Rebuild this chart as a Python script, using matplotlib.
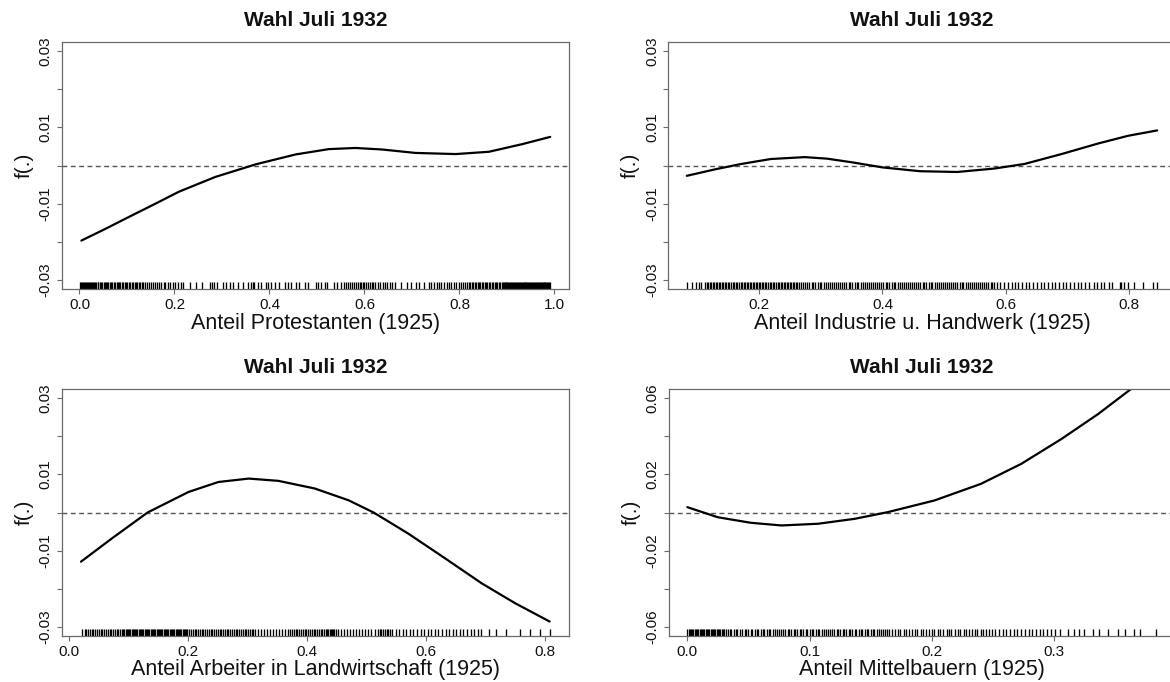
import matplotlib
matplotlib.use('Agg')
import matplotlib.pyplot as plt
from matplotlib.transforms import blended_transform_factory

plt.rcParams['font.family'] = ['Liberation Sans', 'DejaVu Sans']
plt.rcParams['axes.unicode_minus'] = False

W, H = 1170, 682

title = "Wahl Juli 1932"
xlabels = ["Anteil Protestanten (1925)", "Anteil Industrie u. Handwerk (1925)",
           "Anteil Arbeiter in Landwirtschaft (1925)", "Anteil Mittelbauern (1925)"]

# ---- fitted smooth effects ----
p1x = [0.004, 0.055, 0.104, 0.157, 0.209, 0.286, 0.371, 0.455, 0.525, 0.581, 0.637, 0.707, 0.792, 0.862, 0.932, 0.991]
p1y = [-0.0197, -0.0166, -0.0135, -0.0102, -0.0069, -0.0030, 0.0003, 0.0029, 0.0043, 0.0046, 0.0042, 0.0033, 0.0030, 0.0036, 0.0056, 0.0075]

p2x = [0.083, 0.129, 0.171, 0.219, 0.274, 0.310, 0.352, 0.400, 0.461, 0.521, 0.581, 0.630, 0.690, 0.750, 0.798, 0.845]
p2y = [-0.0027, -0.0010, 0.0004, 0.0017, 0.0022, 0.0018, 0.0008, -0.0005, -0.0015, -0.0017, -0.0008, 0.0004, 0.0030, 0.0058, 0.0078, 0.0092]

p3x = [0.020, 0.072, 0.132, 0.201, 0.251, 0.302, 0.352, 0.413, 0.470, 0.512, 0.570, 0.632, 0.694, 0.750, 0.808]
p3y = [-0.0129, -0.0068, 0.0000, 0.0054, 0.0080, 0.0089, 0.0083, 0.0063, 0.0032, 0.0000, -0.0055, -0.0120, -0.0186, -0.0238, -0.0286]

p4x = [0.000, 0.025, 0.052, 0.077, 0.107, 0.137, 0.164, 0.202, 0.240, 0.273, 0.306, 0.336, 0.362, 0.383]
p4y = [0.0028, -0.0025, -0.0054, -0.0068, -0.0059, -0.0033, 0.0002, 0.0063, 0.0150, 0.0255, 0.0386, 0.0517, 0.0644, 0.0750]

# ---- rug positions (observed covariate values, read approximately) ----
rug1 = [0.002, 0.004, 0.006, 0.008, 0.010, 0.012, 0.014, 0.016, 0.018, 0.020, 0.022, 0.024, 0.026, 0.028, 0.030,
        0.033, 0.035, 0.038, 0.040, 0.043, 0.045, 0.048, 0.051, 0.053, 0.056, 0.059, 0.061, 0.064, 0.067, 0.069,
        0.072, 0.075, 0.078, 0.081, 0.083, 0.086, 0.089, 0.092, 0.095, 0.098, 0.101, 0.104, 0.107, 0.110, 0.113,
        0.116, 0.119, 0.122, 0.125, 0.128, 0.131, 0.134,
        0.139, 0.143, 0.147, 0.151, 0.155, 0.159, 0.163, 0.168, 0.172, 0.177, 0.181, 0.186, 0.191, 0.196, 0.201,
        0.207, 0.214, 0.219, 0.233, 0.246, 0.258, 0.274, 0.279, 0.283, 0.289, 0.302, 0.308, 0.316, 0.323, 0.333,
        0.344, 0.354, 0.361, 0.365, 0.368, 0.375, 0.383, 0.393, 0.397, 0.404, 0.411, 0.421, 0.432, 0.439, 0.446,
        0.455, 0.463, 0.474, 0.481, 0.497, 0.502, 0.509, 0.517, 0.521, 0.535, 0.542, 0.550,
        0.557, 0.561, 0.566, 0.570, 0.574, 0.579, 0.583, 0.586, 0.590, 0.593, 0.597, 0.600, 0.604, 0.607, 0.611,
        0.615, 0.619, 0.623, 0.628, 0.633, 0.638, 0.643, 0.648, 0.653, 0.658,
        0.665, 0.676, 0.690, 0.697, 0.708, 0.714, 0.725, 0.736,
        0.741, 0.746, 0.752, 0.757, 0.762, 0.768, 0.773, 0.778, 0.783, 0.788, 0.793, 0.798, 0.803, 0.808, 0.812, 0.816,
        0.820, 0.823, 0.826, 0.829, 0.832, 0.835, 0.838, 0.841, 0.844, 0.847, 0.850, 0.853, 0.856, 0.859, 0.862,
        0.865, 0.868, 0.871, 0.874, 0.877, 0.880, 0.883, 0.886, 0.889, 0.891, 0.893, 0.895, 0.897, 0.899, 0.901,
        0.903, 0.905, 0.907, 0.909, 0.911, 0.913, 0.915, 0.917, 0.919, 0.921, 0.923, 0.925, 0.927, 0.929, 0.931,
        0.933, 0.935, 0.937, 0.939, 0.941, 0.943, 0.945, 0.947, 0.949, 0.951, 0.953, 0.955, 0.957, 0.959, 0.961,
        0.963, 0.965, 0.967, 0.969, 0.971, 0.973, 0.975, 0.977, 0.979, 0.981, 0.983, 0.985, 0.987, 0.989, 0.991]

rug2 = [0.083, 0.092, 0.098, 0.102, 0.106, 0.112,
        0.115, 0.117, 0.120, 0.122, 0.125, 0.127, 0.130, 0.132, 0.135, 0.137, 0.140, 0.142, 0.145, 0.147, 0.150,
        0.152, 0.155, 0.157, 0.160, 0.162, 0.165, 0.167, 0.170, 0.172, 0.175, 0.177, 0.180, 0.182, 0.185, 0.187,
        0.190, 0.192, 0.195, 0.197, 0.200, 0.202, 0.205, 0.207, 0.210, 0.212, 0.215, 0.217, 0.220, 0.222, 0.225,
        0.227, 0.230, 0.232, 0.235, 0.237, 0.240, 0.242, 0.245, 0.247, 0.250, 0.252, 0.255, 0.257, 0.260, 0.262,
        0.265, 0.268,
        0.271, 0.275, 0.278, 0.281, 0.285, 0.288, 0.291, 0.295, 0.298, 0.301, 0.305, 0.308, 0.311, 0.315, 0.318,
        0.321, 0.325, 0.328, 0.331, 0.335, 0.338, 0.341, 0.345, 0.348, 0.351, 0.355, 0.358, 0.361, 0.365, 0.368,
        0.371, 0.375, 0.378, 0.381, 0.385, 0.388, 0.391, 0.395, 0.398, 0.401, 0.405, 0.408, 0.411, 0.415, 0.418,
        0.421, 0.425, 0.428, 0.431, 0.435, 0.438, 0.441, 0.445, 0.448, 0.451, 0.455, 0.458, 0.461, 0.465, 0.468,
        0.471, 0.475, 0.478, 0.481, 0.485, 0.488, 0.491, 0.495, 0.498, 0.501, 0.505, 0.508, 0.511, 0.515, 0.518,
        0.521, 0.525, 0.528, 0.531, 0.535, 0.538, 0.541, 0.545, 0.548, 0.551, 0.555, 0.558, 0.561, 0.565, 0.568,
        0.571, 0.575, 0.578, 0.581, 0.585,
        0.591, 0.597, 0.603, 0.609, 0.614, 0.620, 0.626, 0.632, 0.638, 0.644, 0.650, 0.656, 0.662, 0.668, 0.674,
        0.680, 0.686, 0.692, 0.698, 0.704, 0.710, 0.716, 0.722, 0.728, 0.734,
        0.743, 0.747, 0.754, 0.759, 0.767, 0.772, 0.784, 0.786, 0.792, 0.797, 0.808, 0.822, 0.838, 0.845]

rug3 = [0.021,
        0.026, 0.029, 0.032, 0.035, 0.038, 0.041, 0.044, 0.047, 0.050, 0.053, 0.056, 0.059, 0.062, 0.065, 0.068,
        0.071, 0.074, 0.077, 0.080, 0.083, 0.086, 0.089, 0.091, 0.093, 0.095, 0.097, 0.099, 0.101, 0.103, 0.105,
        0.107, 0.109, 0.111, 0.113, 0.115, 0.117, 0.119, 0.121, 0.123, 0.125, 0.127, 0.129, 0.131, 0.133, 0.135,
        0.137, 0.139, 0.141, 0.143, 0.145, 0.147, 0.149, 0.151, 0.153, 0.155, 0.157, 0.159, 0.161, 0.163, 0.165,
        0.167, 0.169, 0.171, 0.173, 0.175, 0.177, 0.179, 0.181, 0.183, 0.185, 0.187, 0.189, 0.191, 0.193, 0.195,
        0.197, 0.199, 0.202, 0.205, 0.208, 0.211, 0.214, 0.217, 0.220, 0.223, 0.226, 0.229, 0.232, 0.235, 0.238,
        0.241, 0.244, 0.247, 0.250, 0.253, 0.256, 0.259, 0.262, 0.265, 0.268, 0.271, 0.274, 0.277, 0.280, 0.283,
        0.286, 0.289, 0.292, 0.295, 0.298, 0.301, 0.304, 0.307, 0.310, 0.313,
        0.318, 0.323, 0.328, 0.333, 0.338, 0.343, 0.348, 0.353, 0.358, 0.363, 0.368,
        0.372, 0.375, 0.378, 0.381, 0.384, 0.387, 0.390, 0.393, 0.396, 0.399, 0.402, 0.405, 0.408, 0.411, 0.414,
        0.417, 0.420, 0.423, 0.426, 0.429, 0.432, 0.434, 0.436, 0.438, 0.440, 0.442, 0.444, 0.446, 0.448,
        0.453, 0.458, 0.463, 0.468, 0.473, 0.478, 0.483, 0.488, 0.493, 0.498, 0.503, 0.508,
        0.514, 0.519,
        0.522, 0.525, 0.528, 0.531, 0.534, 0.537, 0.540, 0.543,
        0.549, 0.555, 0.561, 0.567, 0.573, 0.579, 0.585, 0.591, 0.597, 0.603, 0.609, 0.615, 0.621, 0.627, 0.633,
        0.639, 0.645, 0.651, 0.657, 0.663, 0.669, 0.675, 0.681, 0.687,
        0.693, 0.706, 0.718, 0.734, 0.759, 0.775, 0.791, 0.809]

rug4 = [0.000, 0.001, 0.002, 0.003, 0.004, 0.005, 0.006, 0.007, 0.008, 0.009, 0.010, 0.011, 0.012, 0.013, 0.014,
        0.015, 0.016, 0.017, 0.018, 0.019, 0.020, 0.021, 0.022, 0.023, 0.024, 0.025, 0.026, 0.027, 0.028, 0.029,
        0.030, 0.032, 0.033, 0.035, 0.036, 0.038, 0.040, 0.041, 0.043, 0.045, 0.047, 0.048, 0.050, 0.052, 0.053,
        0.055, 0.057, 0.058, 0.060, 0.062, 0.063, 0.065, 0.067, 0.068, 0.070, 0.072, 0.073, 0.075, 0.077, 0.078,
        0.080, 0.082, 0.083, 0.085, 0.087, 0.088, 0.090, 0.092, 0.093, 0.095, 0.097, 0.098, 0.100, 0.102, 0.103,
        0.105, 0.107, 0.108, 0.110, 0.112, 0.113, 0.115, 0.117, 0.118, 0.120, 0.122, 0.123, 0.125, 0.127, 0.128,
        0.130, 0.132, 0.133, 0.135, 0.137, 0.138, 0.140, 0.142, 0.143, 0.145, 0.147, 0.148, 0.150, 0.152, 0.153,
        0.155, 0.157, 0.158, 0.160, 0.162, 0.163, 0.165, 0.167,
        0.170, 0.172, 0.174, 0.177, 0.179, 0.181, 0.184, 0.186, 0.188, 0.191, 0.193, 0.195, 0.198, 0.200, 0.202,
        0.205, 0.207, 0.209, 0.212, 0.214, 0.216, 0.219, 0.221, 0.223, 0.226, 0.228, 0.230, 0.233, 0.235, 0.237,
        0.240, 0.242, 0.244, 0.247, 0.249,
        0.252, 0.255, 0.258, 0.261, 0.264, 0.267, 0.270, 0.273, 0.276, 0.279, 0.282, 0.285, 0.288, 0.291, 0.294,
        0.297,
        0.3005, 0.305, 0.311, 0.316, 0.320, 0.324, 0.332, 0.337, 0.344, 0.352, 0.358, 0.365, 0.370, 0.383]

xt1 = [0.0, 0.2, 0.4, 0.6, 0.8, 1.0]
xt2 = [0.2, 0.4, 0.6, 0.8]
xt3 = [0.0, 0.2, 0.4, 0.6, 0.8]
xt4 = [0.0, 0.1, 0.2, 0.3]
yt_small = [-0.03, -0.02, -0.01, 0.0, 0.01, 0.02, 0.03]
yl_small = ["-0.03", "", "-0.01", "", "0.01", "", "0.03"]
yt_big = [-0.06, -0.04, -0.02, 0.0, 0.02, 0.04, 0.06]
yl_big = ["-0.06", "", "-0.02", "", "0.02", "", "0.06"]

panels = [
    dict(box=(61.6, 569.0, 42, 289), x=p1x, y=p1y, rug=rug1, xlim=(-0.0376, 1.0306), ylim=(-0.0324, 0.0324),
         xt=xt1, yt=yt_small, yl=yl_small, xlab=xlabels[0]),
    dict(box=(668.0, 1176.0, 42, 289), x=p2x, y=p2y, rug=rug2, xlim=(0.0525, 0.8755), ylim=(-0.0324, 0.0324),
         xt=xt2, yt=yt_small, yl=yl_small, xlab=xlabels[1]),
    dict(box=(61.6, 569.0, 389, 636), x=p3x, y=p3y, rug=rug3, xlim=(-0.0126, 0.8406), ylim=(-0.0324, 0.0324),
         xt=xt3, yt=yt_small, yl=yl_small, xlab=xlabels[2]),
    dict(box=(668.6, 1174.4, 389, 636), x=p4x, y=p4y, rug=rug4, xlim=(-0.0153, 0.3983), ylim=(-0.0648, 0.0648),
         xt=xt4, yt=yt_big, yl=yl_big, xlab=xlabels[3]),
]

fig = plt.figure(figsize=(W / 100, H / 100), dpi=100)
axc = '#6a6a6a'
txt = '#111111'

for p in panels:
    L, R, T, B = p['box']
    ax = fig.add_axes([L / W, 1 - B / H, (R - L) / W, (B - T) / H])
    ax.set_xlim(*p['xlim'])
    ax.set_ylim(*p['ylim'])
    ax.axhline(0, color='#555555', lw=1.0, ls=(0, (3.5, 2.5)))
    ax.plot(p['x'], p['y'], color='black', lw=1.6, solid_capstyle='round', solid_joinstyle='round')
    tr = blended_transform_factory(ax.transData, ax.transAxes)
    ax.vlines(p['rug'], 0, 0.03, transform=tr, color='black', lw=0.95)
    for s in ax.spines.values():
        s.set_color(axc)
        s.set_linewidth(0.9)
    ax.set_xticks(p['xt'])
    ax.set_xticklabels(["%.1f" % v for v in p['xt']])
    ax.set_yticks(p['yt'])
    ax.set_yticklabels(p['yl'], rotation=90, va='center')
    ax.tick_params(direction='out', length=3.3, width=0.8, color=axc, labelsize=11, pad=3.0, labelcolor=txt)
    bh = B - T
    ax.text(0.5, 1 + 21 / bh, title, transform=ax.transAxes, ha='center', va='center',
            fontsize=15, fontweight='bold', color=txt)
    ax.text(0.5, -34 / bh, p['xlab'], transform=ax.transAxes, ha='center', va='center',
            fontsize=15.5, color=txt)
    fig.text((L - 37.6) / W, 1 - (T + bh / 2) / H, "f(.)", rotation=90, ha='center', va='center',
             fontsize=15, color=txt)

fig.savefig('out.png', dpi=100)
